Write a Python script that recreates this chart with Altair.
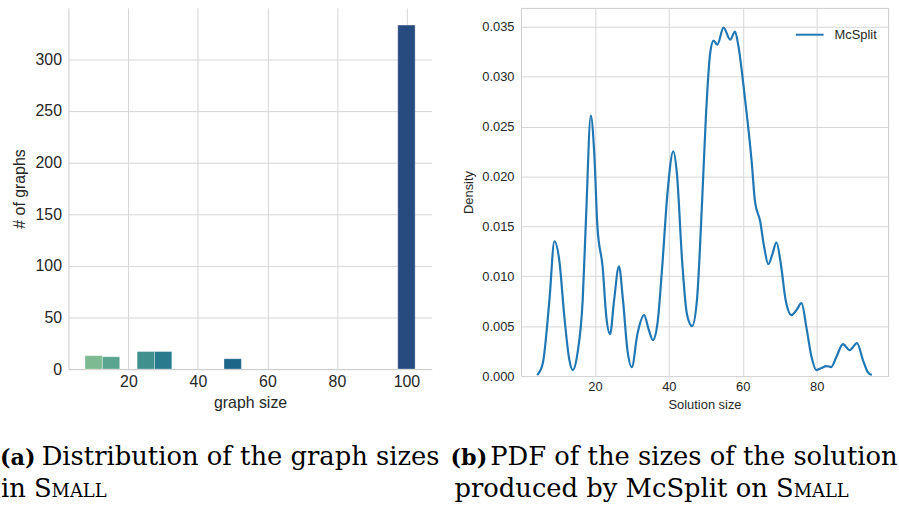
import altair as alt
import pandas as pd

# ---------------- data ----------------
graph_sizes = [10, 15, 25, 30, 50, 100]
graph_counts = [13, 12, 17, 17, 10, 333]
bar_colors = ["#7dba91", "#59a590", "#40908e", "#287a8c", "#1c6488", "#254b7f"]

sol_x = [4.4, 5.9, 7.7, 9.06, 10.4, 11.75, 13.1, 14.0, 15.3, 16.7, 17.6, 18.9, 19.8,
         20.7, 22.1, 23.1, 24.1, 25.2, 26.5, 27.6, 28.8, 30.0, 31.5, 33.3, 34.6, 35.7,
         36.9, 38.2, 39.6, 41.2, 42.2, 43.6, 44.9, 46.3, 47.6, 49.0, 50.0, 51.2, 52.1,
         53.1, 54.8, 56.6, 57.9, 58.8, 60.2, 61.3, 62.4, 63.3, 64.7, 65.8, 66.9, 68.0,
         69.1, 70.3, 71.6, 73.2, 74.5, 75.9, 77.2, 78.6, 79.9, 81.3, 82.6, 83.9, 85.3,
         87.1, 88.9, 90.9, 92.5, 93.8, 94.9]
sol_density = [0.0001, 0.00126, 0.0076, 0.0135, 0.0115, 0.0059, 0.0016, 0.0006, 0.0023,
               0.0076, 0.0158, 0.0261, 0.0225, 0.0149, 0.0109, 0.0059, 0.0042, 0.0076,
               0.0110, 0.0076, 0.0026, 0.0009, 0.0042, 0.0061, 0.0046, 0.0036, 0.0052,
               0.0109, 0.0182, 0.0225, 0.0202, 0.0115, 0.0062, 0.0050, 0.0076, 0.0175,
               0.0258, 0.0324, 0.0336, 0.0332, 0.0349, 0.0337, 0.0345, 0.0331, 0.0291,
               0.0255, 0.0215, 0.0175, 0.0155, 0.0129, 0.0112, 0.0122, 0.0134, 0.0112,
               0.0076, 0.0061, 0.0066, 0.0073, 0.0049, 0.0019, 0.0006, 0.0008, 0.0010,
               0.0009, 0.0019, 0.0032, 0.0026, 0.0033, 0.0016, 0.0004, 0.0001]
series_name = "McSplit"

x_ticks_a = [20, 40, 60, 80, 100]
y_ticks_a = [0, 50, 100, 150, 200, 250, 300]
x_ticks_b = [20, 40, 60, 80]
y_ticks_b = [0.0, 0.005, 0.010, 0.015, 0.020, 0.025, 0.030, 0.035]

cap_a_label = "(a)"
cap_a_line1 = "Distribution of the graph sizes"
cap_a_line2 = "in S"
cap_b_label = "(b)"
cap_b_line1 = "PDF of the sizes of the solution"
cap_b_line2 = "produced by McSplit on S"
small_caps = "MALL"

# ---------------- style ----------------
SANS = "Liberation Sans"
SERIF = "DejaVu Serif"
TXT = "#262626"
GRID = "#d6d6d6"
CAP = 26
LBL = 22.5
SC = 18

df_a = pd.DataFrame({"size": graph_sizes, "count": graph_counts})
df_b = pd.DataFrame({"x": sol_x, "density": sol_density, "series": series_name})


def text_layer(txt, x, y, size, weight="normal"):
    return alt.Chart(pd.DataFrame({"t": [txt]})).mark_text(
        align="left", baseline="alphabetic", font=SERIF, fontSize=size,
        fontWeight=weight, color="black"
    ).encode(text="t:N", x=alt.value(x), y=alt.value(y))


bars = alt.Chart(df_a).transform_calculate(
    x0="datum.size - 2.5", x1="datum.size + 2.5"
).mark_bar(stroke="white", strokeWidth=0.6, strokeOpacity=0.6).encode(
    x=alt.X("x0:Q", scale=alt.Scale(domain=[2.75, 107.25], nice=False, zero=False),
            axis=alt.Axis(values=x_ticks_a, title="graph size", labelFontSize=16,
                          titleFontSize=16, labelPadding=5, titlePadding=5,
                          domainColor="#cccccc", ticks=False, gridColor=GRID)),
    x2="x1:Q",
    y=alt.Y("count:Q", scale=alt.Scale(domain=[0, 349.65], nice=False),
            axis=alt.Axis(values=y_ticks_a, title="# of graphs", labelFontSize=16,
                          titleFontSize=16, labelPadding=7, titlePadding=8,
                          domainColor="#cccccc", ticks=False, gridColor=GRID)),
    y2=alt.datum(0),
    color=alt.Color("size:N", scale=alt.Scale(domain=graph_sizes, range=bar_colors),
                    legend=None),
)

chart_a = alt.layer(
    bars,
    text_layer(cap_a_label, -69, 461, LBL, "bold"),
    text_layer(cap_a_line1, -27, 461, CAP),
    text_layer(cap_a_line2, -68, 493, CAP),
    text_layer(small_caps, -17, 493, SC),
).properties(width=366, height=364,
             view=alt.ViewBackground(strokeOpacity=0))

line = alt.Chart(df_b).mark_line(strokeWidth=2.2, interpolate="monotone").encode(
    x=alt.X("x:Q", scale=alt.Scale(domain=[0, 99.3], nice=False, zero=False),
            axis=alt.Axis(values=x_ticks_b, title="Solution size", labelFontSize=13,
                          titleFontSize=13, labelPadding=5, titlePadding=5,
                          domain=False, ticks=False, gridColor=GRID)),
    y=alt.Y("density:Q", scale=alt.Scale(domain=[0, 0.03688], nice=False),
            axis=alt.Axis(values=y_ticks_b, format=".3f", title="Density",
                          labelFontSize=13, titleFontSize=13, labelPadding=7,
                          titlePadding=6, domain=False, ticks=False, gridColor=GRID)),
    color=alt.Color("series:N", scale=alt.Scale(domain=[series_name], range=["#1f77b4"]),
                    legend=alt.Legend(title=None, orient="none", legendX=276, legendY=12,
                                      symbolType="stroke", symbolSize=784,
                                      symbolStrokeWidth=2, labelFontSize=13,
                                      labelFont=SANS, labelColor=TXT, labelOffset=10)),
)

chart_b = alt.layer(
    line,
    text_layer(cap_b_label, -71, 461, LBL, "bold"),
    text_layer(cap_b_line1, -31, 461, CAP),
    text_layer(cap_b_line2, -67, 493, CAP),
    text_layer(small_caps, 275, 493, SC),
).properties(width=370, height=371,
             view=alt.ViewBackground(stroke="#cccccc", strokeWidth=1))

chart = alt.hconcat(chart_a, chart_b, spacing=90, bounds="flush").resolve_scale(
    color="independent"
).configure(
    padding={"left": 0, "top": 5, "right": 0, "bottom": 0},
    font=SANS,
).configure_axis(
    labelFont=SANS, titleFont=SANS, labelColor=TXT, titleColor=TXT,
    titleFontWeight="normal", gridWidth=1,
)

chart.save("out.html", embed_options={"renderer": "svg", "actions": False})
